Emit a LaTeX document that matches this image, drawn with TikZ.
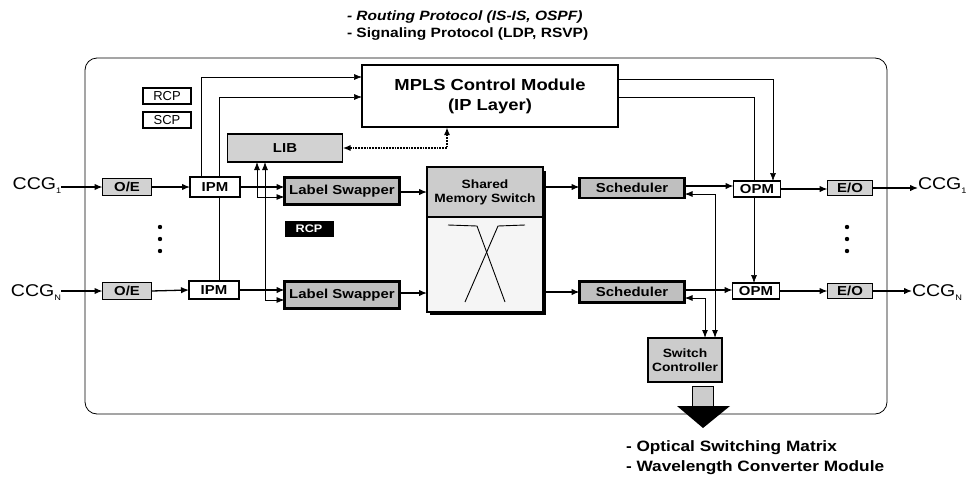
\documentclass[tikz,border=0pt]{standalone}
\usepackage{fontspec}
\setmainfont{Liberation Sans}
\newfontfamily\wf[FakeStretch=1.15]{Liberation Sans}
\usetikzlibrary{arrows.meta,calc}
\pgfdeclarelayer{bg}
\pgfsetlayers{bg,main}
\tikzset{
  every node/.style={inner sep=0pt, outer sep=0pt},
  conn/.style={line width=1.3pt, -{Latex[length=8pt,width=6.5pt]}},
  thinarr/.style={line width=0.6pt, -{Latex[length=8pt,width=6pt]}},
  dblarr/.style={line width=1pt, {Latex[length=8pt,width=6pt]}-{Latex[length=8pt,width=6pt]}},
  dotarr/.style={line width=1.8pt, densely dotted, {Latex[length=8pt,width=6pt]}-{Latex[length=8pt,width=6pt]}},
  wbox/.style={draw, line width=1.8pt, fill=white, font=\wf\bfseries\fontsize{13}{13}\selectfont},
  lgbox/.style={draw, line width=1.8pt, fill=gray!35, font=\wf\bfseries\fontsize{13}{13}\selectfont},
  gbox/.style={draw, line width=2.2pt, fill=gray!50, font=\wf\bfseries\fontsize{13}{13}\selectfont},
  cplabel/.style={draw, line width=1.2pt, fill=white, minimum width=48pt, minimum height=16pt, font=\fontsize{13}{13}\selectfont},
  ccg/.style={font=\wf\fontsize{17}{17}\selectfont},
  note/.style={anchor=west, font=\wf\bfseries\fontsize{13.5}{13.5}\selectfont},
  bnote/.style={anchor=west, font=\wf\bfseries\fontsize{15}{15}\selectfont},
}
\newcommand{\ccgsub}[1]{CCG\raisebox{-4pt}{\fontsize{8}{8}\selectfont #1}}
\begin{document}
\begin{tikzpicture}[x=1pt,y=-1pt]
\useasboundingbox (0,0) rectangle (976,482);
% outer frame
\draw[line width=0.8pt, rounded corners=12pt] (85,58) rectangle (887,414);
% top notes
\node[note] (n1) at (347,17) {\itshape - Routing Protocol (IS-IS, OSPF)};
\node[note] (n2) at (347,34) {- Signaling Protocol (LDP, RSVP)};
% MPLS
\node[draw, line width=2.2pt, fill=white, minimum width=256pt, minimum height=62pt, align=center,
      font=\wf\bfseries\fontsize{16}{20}\selectfont] (mpls) at (490,96) {MPLS Control Module\\(IP Layer)};
\node[cplabel] (rcp) at (167,96) {RCP};
\node[cplabel] (scp) at (167,120) {SCP};
\node[draw, line width=1.5pt, fill=gray!35, minimum width=115pt, minimum height=28pt,
      font=\wf\bfseries\fontsize{13}{13}\selectfont] (lib) at (285,148) {LIB};
% row 1
\node[ccg] (ccg1) at (37,186) {\ccgsub{1}};
\node[lgbox, minimum width=49pt, minimum height=17pt] (oe1) at (127,187) {O/E};
\node[wbox, minimum width=50pt, minimum height=20pt] (ipm1) at (215,187) {IPM};
\node[gbox, minimum width=115pt, minimum height=27pt] (ls1) at (342,191) {Label Swapper};
\node[gbox, minimum width=105pt, minimum height=20pt] (sch1) at (632,188) {Scheduler};
\node[wbox, minimum width=47pt, minimum height=16pt] (opm1) at (757,189) {OPM};
\node[lgbox, minimum width=45pt, minimum height=15pt] (eo1) at (850,188) {E/O};
\node[ccg, anchor=west] (ccg1o) at (918,186) {\ccgsub{1}};
% row N
\node[ccg] (ccgn) at (36,293) {\ccgsub{N}};
\node[lgbox, minimum width=49pt, minimum height=17pt] (oen) at (127,291) {O/E};
\node[wbox, minimum width=50pt, minimum height=18pt] (ipmn) at (214,290) {IPM};
\node[gbox, minimum width=115pt, minimum height=27pt] (lsn) at (342,295) {Label Swapper};
\node[gbox, minimum width=105pt, minimum height=21pt] (schn) at (632,292) {Scheduler};
\node[wbox, minimum width=47pt, minimum height=16pt] (opmn) at (756,291) {OPM};
\node[lgbox, minimum width=45pt, minimum height=15pt] (eon) at (850,291) {E/O};
\node[ccg, anchor=west] (ccgno) at (912,293) {\ccgsub{N}};
% RCP black
\node[draw, fill=black, text=white, minimum width=48pt, minimum height=15pt,
      font=\wf\bfseries\fontsize{11}{11}\selectfont] (rcpb) at (309,229) {RCP};
% shared memory switch
\fill[black] (430,171) rectangle (546,315);
\node[draw, line width=1.5pt, fill=gray!8, minimum width=116pt, minimum height=95pt] (swb) at (485,264.5) {};
\node[draw, line width=1.5pt, fill=gray!40, minimum width=116pt, minimum height=50pt, align=center,
      font=\wf\bfseries\fontsize{12}{14}\selectfont] (swt) at (485,192) {Shared\\Memory Switch};
\draw[line width=0.9pt] (448,225) -- (477,226) -- (505,302);
\draw[line width=0.9pt] (525,225) -- (498,226) -- (465,302);
% switch controller
\node[gbox, line width=1.8pt, fill=gray!40, minimum width=74pt, minimum height=44pt, align=center,
      font=\wf\bfseries\fontsize{12}{14}\selectfont] (ctl) at (685,360) {Switch\\Controller};
% block arrow
\draw[line width=0.6pt, fill=gray!40] (692,386) rectangle (713,406);
\fill[black] (677,406) -- (730,406) -- (703,428) -- cycle;
\node[bnote] (b1) at (626,448) {- Optical Switching Matrix};
\node[bnote] (b2) at (626,468) {- Wavelength Converter Module};
% dots
\foreach \yy in {227,239,251} {\fill (160,\yy) circle (2.2pt); \fill (847,\yy) circle (2.2pt);}
% helper coordinates
\coordinate (s1o) at ($(swt.east)+(0,-5)$);
\coordinate (sno) at ($(swb.east)+(0,27.5)$);
\coordinate (h1o) at ($(sch1.east)+(0,-2)$);
\coordinate (hno) at ($(schn.east)+(0,-2)$);
\coordinate (lno) at ($(lsn.east)+(0,-2)$);
% connectors row 1
\draw[conn] (ccg1.east |- oe1) -- (oe1.west);
\draw[conn] (oe1.east) -- (ipm1.west);
\draw[conn] (ipm1.east) -- (ipm1.east -| ls1.west);
\draw[conn] (ls1.east |- swt) -- (swt.west);
\draw[conn] (s1o) -- (s1o -| sch1.west);
\draw[conn] (h1o) -- (h1o -| opm1.west);
\draw[conn] (opm1.east) -- (opm1.east -| eo1.west);
\draw[conn] (eo1.east) -- (eo1.east -| ccg1o.west);
% connectors row N
\draw[conn] (ccgn.east |- oen) -- (oen.west);
\draw[conn] (oen.east) -- (ipmn.west);
\draw[conn] (ipmn.east) -- (ipmn.east -| lsn.west);
\draw[conn] (lno) -- (lno -| swb.west);
\draw[conn] (sno) -- (sno -| schn.west);
\draw[conn] (hno) -- (hno -| opmn.west);
\draw[conn] (opmn.east) -- (opmn.east -| eon.west);
\draw[conn] (eon.east) -- (eon.east -| ccgno.west);
% LIB links
\draw[line width=0.8pt, {Latex[length=8pt,width=6pt]}-{Latex[length=8pt,width=6pt]}] ($(lib.south)+(-28,0)$) |- ($(ls1.west)+(0,6)$);
\draw[line width=0.8pt, {Latex[length=8pt,width=6pt]}-{Latex[length=8pt,width=6pt]}] ($(lib.south)+(-20,0)$) |- ($(lsn.west)+(0,5)$);
\draw[dotarr] (lib.east) -| ($(mpls.south)+(-43,0)$);
\begin{pgfonlayer}{bg}
% IPM to MPLS
\draw[thinarr] ($(ipm1.north)+(-14,0)$) |- ($(mpls.west)+(0,-19)$);
\draw[thinarr] ($(ipmn.north)+(5,0)$) |- ($(mpls.west)+(0,1)$);
% MPLS to OPM
\draw[thinarr] ($(mpls.east)+(0,-17)$) -| ($(opm1.north)+(16,0)$);
\draw[thinarr] ($(mpls.east)+(0,1)$) -| ($(opmn.north)+(-2,0)$);
\end{pgfonlayer}
% controller links
\draw[dblarr] ($(ctl.north)+(30,0)$) |- ($(sch1.east)+(0,6)$);
\draw[dblarr] ($(ctl.north)+(20,0)$) |- ($(schn.east)+(0,6)$);
\end{tikzpicture}
\end{document}
